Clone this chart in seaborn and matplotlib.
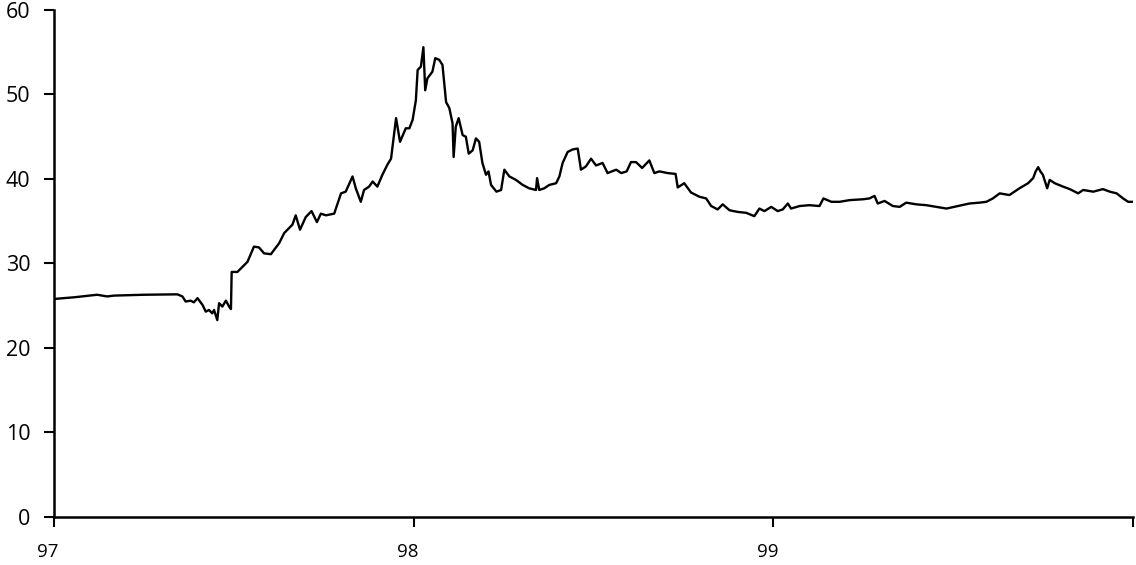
import numpy as np
import pandas as pd
import matplotlib
matplotlib.use("Agg")
import matplotlib.pyplot as plt
import matplotlib.transforms as mtransforms
import seaborn as sns

# time offset in years since start of 1997, and series value
t_offset = [
    0.000, 0.056, 0.120, 0.148, 0.167, 0.250, 0.343, 0.357, 0.366, 0.380,
    0.389, 0.399, 0.413, 0.422, 0.431, 0.440, 0.445, 0.454, 0.459, 0.468,
    0.478, 0.487, 0.492, 0.494, 0.510, 0.538, 0.556, 0.570, 0.584, 0.603,
    0.626, 0.640, 0.663, 0.672, 0.684, 0.700, 0.716, 0.731, 0.742, 0.756,
    0.779, 0.798, 0.811, 0.830, 0.839, 0.853, 0.862, 0.876, 0.886, 0.899,
    0.913, 0.927, 0.937, 0.951, 0.962, 0.978, 0.988, 0.997, 1.006, 1.011,
    1.020, 1.027, 1.032, 1.038, 1.052, 1.060, 1.071, 1.080, 1.090, 1.099,
    1.108, 1.111, 1.117, 1.125, 1.136, 1.145, 1.153, 1.164, 1.173, 1.182,
    1.191, 1.201, 1.208, 1.215, 1.230, 1.243, 1.252, 1.266, 1.284, 1.303,
    1.321, 1.340, 1.343, 1.349, 1.363, 1.377, 1.396, 1.405, 1.414, 1.428,
    1.442, 1.456, 1.465, 1.479, 1.493, 1.507, 1.525, 1.539, 1.563, 1.577,
    1.592, 1.604, 1.618, 1.635, 1.655, 1.669, 1.683, 1.706, 1.728, 1.734,
    1.752, 1.771, 1.794, 1.813, 1.827, 1.845, 1.859, 1.878, 1.901, 1.924,
    1.947, 1.961, 1.975, 1.994, 2.012, 2.026, 2.040, 2.049, 2.073, 2.100,
    2.128, 2.139, 2.161, 2.184, 2.212, 2.249, 2.267, 2.281, 2.290, 2.309,
    2.332, 2.351, 2.369, 2.397, 2.425, 2.453, 2.481, 2.513, 2.545, 2.573,
    2.592, 2.610, 2.629, 2.656, 2.684, 2.708, 2.722, 2.729, 2.736, 2.742,
    2.749, 2.761, 2.768, 2.782, 2.805, 2.824, 2.847, 2.861, 2.889, 2.916,
    2.935, 2.954, 2.972, 2.986, 2.999,
]
values = [
    25.8, 26.0, 26.3, 26.1, 26.2, 26.3, 26.35, 26.1, 25.5, 25.6,
    25.4, 25.9, 25.1, 24.3, 24.5, 24.1, 24.5, 23.3, 25.3, 24.9,
    25.6, 24.9, 24.6, 29.0, 29.0, 30.2, 32.0, 31.9, 31.2, 31.1,
    32.4, 33.6, 34.6, 35.7, 34.0, 35.5, 36.2, 34.9, 35.9, 35.7,
    35.9, 38.3, 38.5, 40.3, 38.9, 37.3, 38.7, 39.1, 39.7, 39.1,
    40.5, 41.7, 42.4, 47.2, 44.4, 46.0, 46.0, 47.0, 49.3, 52.9,
    53.3, 55.6, 50.5, 51.9, 52.7, 54.3, 54.1, 53.5, 49.1, 48.4,
    46.6, 42.6, 46.2, 47.2, 45.2, 45.0, 43.0, 43.4, 44.8, 44.4,
    41.9, 40.5, 40.9, 39.3, 38.5, 38.7, 41.1, 40.3, 39.9, 39.3,
    38.9, 38.7, 40.1, 38.7, 38.9, 39.3, 39.5, 40.3, 41.9, 43.2,
    43.5, 43.6, 41.1, 41.5, 42.4, 41.6, 41.9, 40.7, 41.1, 40.7,
    40.9, 42.0, 42.0, 41.3, 42.2, 40.7, 40.9, 40.7, 40.6, 39.0,
    39.5, 38.4, 37.9, 37.7, 36.8, 36.4, 37.0, 36.3, 36.1, 36.0,
    35.6, 36.5, 36.2, 36.7, 36.2, 36.4, 37.1, 36.5, 36.8, 36.9,
    36.8, 37.7, 37.3, 37.3, 37.5, 37.6, 37.7, 38.0, 37.1, 37.4,
    36.8, 36.7, 37.2, 37.0, 36.9, 36.7, 36.5, 36.8, 37.1, 37.2,
    37.3, 37.7, 38.3, 38.1, 38.9, 39.5, 40.1, 40.9, 41.4, 40.9,
    40.5, 38.9, 39.9, 39.5, 39.1, 38.8, 38.3, 38.7, 38.5, 38.8,
    38.5, 38.3, 37.7, 37.3, 37.3,
]

start_year = 97
x_tick_values = [97, 98, 99, 100]
x_tick_labels = ["97", "98", "99", ""]
y_tick_values = [0, 10, 20, 30, 40, 50, 60]

df = pd.DataFrame({"year": np.array(t_offset) + start_year, "value": values})

sns.set_theme(style="ticks")
plt.rcParams["font.family"] = ["Open Sans", "DejaVu Sans"]

fig = plt.figure(figsize=(11.36, 5.65), dpi=100)
ax = fig.add_axes([0.0475, 0.085, 0.95, 0.8973])

sns.lineplot(data=df, x="year", y="value", ax=ax, color="black",
             linewidth=1.7, estimator=None, sort=False)

ax.set_xlim(97, 100)
ax.set_ylim(0, 60)
ax.set_xticks(x_tick_values)
ax.set_xticklabels(x_tick_labels)
ax.set_yticks(y_tick_values)
ax.set_xlabel("")
ax.set_ylabel("")

for side in ["top", "right"]:
    ax.spines[side].set_visible(False)
for side in ["left", "bottom"]:
    ax.spines[side].set_linewidth(1.8)
    ax.spines[side].set_color("black")

ax.tick_params(axis="y", direction="out", length=7, width=1.5, pad=10,
               labelsize=15.5, colors="black")
ax.tick_params(axis="x", direction="out", length=7, width=1.5, pad=12,
               labelsize=13.5, colors="black")

offset = mtransforms.ScaledTranslation(-6 / 100, 0, fig.dpi_scale_trans)
for lbl in ax.get_xticklabels():
    lbl.set_transform(lbl.get_transform() + offset)

fig.savefig("out.png", dpi=100)
